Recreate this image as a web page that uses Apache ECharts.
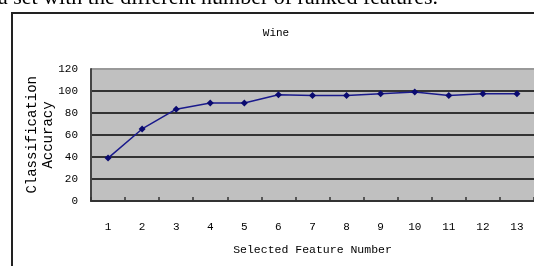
<!DOCTYPE html>
<html>
<head>
<meta charset="utf-8">
<script src="https://cdn.jsdelivr.net/npm/echarts@6/dist/echarts.min.js"></script>
<style>
  html, body { margin: 0; padding: 0; background: #fff; }
  #chart { width: 534px; height: 266px; }
</style>
</head>
<body>
<div id="chart"></div>
<script>
  // data
  var featureNumbers = ['1', '2', '3', '4', '5', '6', '7', '8', '9', '10', '11', '12', '13'];
  var accuracy = [39, 65.5, 83.5, 89, 89, 96.5, 96, 96, 97.5, 99, 96, 97.5, 97.5];
  var yTicks = [0, 20, 40, 60, 80, 100, 120];

  var mono = '"Liberation Mono", "DejaVu Sans Mono", monospace';
  var chart = echarts.init(document.getElementById('chart'));

  var option = {
    animation: false,
    backgroundColor: '#fff',
    title: {
      text: 'Wine',
      left: 271,
      top: 23,
      textAlign: 'center',
      textStyle: { fontFamily: mono, fontSize: 11, fontWeight: 'normal', color: '#000' }
    },
    graphic: [
      {
        // caption line above the figure, mostly cut off
        type: 'text',
        left: -2,
        top: -13,
        silent: true,
        style: {
          text: 'a set with the different number of ranked features.',
          font: '22px "Liberation Serif", serif',
          fill: '#000'
        }
      },
      {
        type: 'rect',
        shape: { x: 12, y: 13, width: 600, height: 300 },
        silent: true,
        style: { fill: 'none', stroke: '#222', lineWidth: 2 }
      },
      {
        type: 'text',
        left: 25,
        top: 76,
        rotation: Math.PI / 2,
        silent: true,
        style: {
          text: 'Classification',
          font: '14px ' + mono,
          fill: '#000'
        }
      }
    ],
    grid: {
      left: 91,
      top: 69,
      width: 447,
      height: 132,
      show: true,
      backgroundColor: '#c0c0c0',
      borderWidth: 0
    },
    xAxis: {
      type: 'category',
      data: featureNumbers,
      boundaryGap: true,
      name: 'Selected Feature Number',
      nameLocation: 'middle',
      nameGap: 43,
      nameMoveOverlap: false,
      nameTextStyle: { fontFamily: mono, fontSize: 11.5, color: '#000' },
      axisLine: { show: true, lineStyle: { color: '#333', width: 2 } },
      axisTick: { show: true, inside: true, length: 4, lineStyle: { color: '#333', width: 1.5 } },
      axisLabel: { margin: 21, fontFamily: mono, fontSize: 11, color: '#000' }
    },
    yAxis: {
      type: 'value',
      min: 0,
      max: 120,
      interval: 20,
      name: 'Accuracy',
      nameLocation: 'middle',
      nameGap: 36,
      nameRotate: 90,
      nameMoveOverlap: false,
      nameTextStyle: { fontFamily: mono, fontSize: 14, color: '#000' },
      axisLine: { show: true, lineStyle: { color: '#444', width: 2 } },
      axisTick: { show: false },
      axisLabel: {
        margin: 13,
        fontFamily: mono,
        fontSize: 11,
        color: '#000',
        formatter: function (v) { return yTicks.indexOf(v) >= 0 ? String(v) : ''; }
      },
      splitLine: {
        show: true,
        lineStyle: { color: ['#333', '#333', '#333', '#333', '#333', '#333', '#999'], width: 2 }
      }
    },
    series: [{
      type: 'line',
      data: accuracy,
      symbol: 'diamond',
      symbolSize: 7,
      lineStyle: { color: '#1a1a8c', width: 1.5 },
      itemStyle: { color: '#0a0a70' }
    }]
  };

  chart.setOption(option);
</script>
</body>
</html>
